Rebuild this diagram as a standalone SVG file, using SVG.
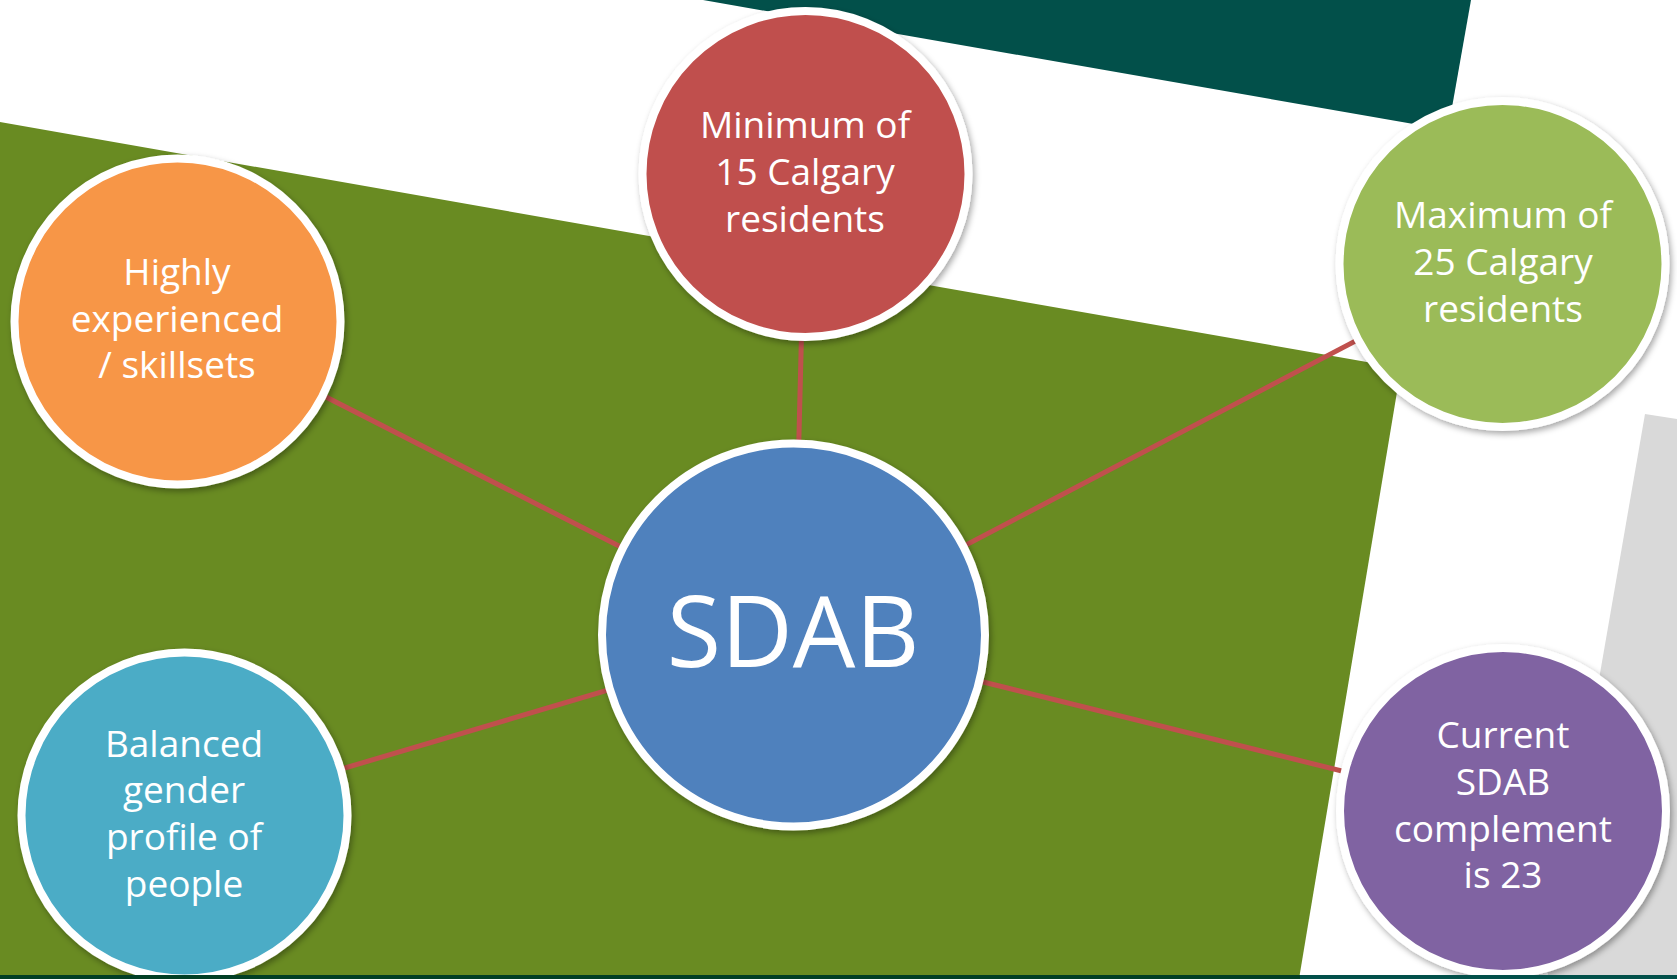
<svg xmlns="http://www.w3.org/2000/svg" width="1677" height="979" viewBox="0 0 1677 979">
  <defs>
    <filter id="sh" x="-10%" y="-10%" width="125%" height="125%">
      <feDropShadow dx="2" dy="3" stdDeviation="3" flood-color="#000" flood-opacity="0.35"/>
    </filter>
  </defs>
  <style>
    .node { stroke: #ffffff; stroke-width: 8; filter: url(#sh); }
    .lbl { font-family: "Open Sans", "Noto Sans", sans-serif; font-size: 37px; fill: #ffffff; text-anchor: middle; }
    .big { font-family: "Open Sans", "Noto Sans", sans-serif; font-size: 99px; fill: #ffffff; text-anchor: middle; }
    .conn { stroke: #C0504D; stroke-width: 5; fill: none; }
  </style>

  <g id="background">
    <rect x="0" y="0" width="1677" height="979" fill="#ffffff"/>
    <polygon points="703,0 1471,0 1448,130" fill="#02504A"/>
    <polygon points="0,122 1401,368 1299,979 0,979" fill="#698B22"/>
    <polygon points="1645,414 1677,419 1677,979 1547,979" fill="#D9D9D9"/>
  </g>

  <g id="connectors">
    <line class="conn" x1="794" y1="635" x2="805.5" y2="174"/>
    <line class="conn" x1="794" y1="635" x2="1502.5" y2="264"/>
    <line class="conn" x1="794" y1="635" x2="1503" y2="811"/>
    <line class="conn" x1="794" y1="635" x2="177.5" y2="321.5"/>
    <line class="conn" x1="794" y1="635" x2="184.5" y2="815.5"/>
  </g>

  <g id="node-min">
    <circle class="node" cx="805.5" cy="174" r="163" fill="#C0504D"/>
    <text class="lbl" x="805" y="138">Minimum of</text>
    <text class="lbl" x="805" y="185">15 Calgary</text>
    <text class="lbl" x="805" y="232">residents</text>
  </g>

  <g id="node-max">
    <circle class="node" cx="1502.5" cy="264" r="163" fill="#9BBB59"/>
    <text class="lbl" x="1503" y="228">Maximum of</text>
    <text class="lbl" x="1503" y="275">25 Calgary</text>
    <text class="lbl" x="1503" y="322">residents</text>
  </g>

  <g id="node-exp">
    <circle class="node" cx="177.5" cy="321.5" r="163" fill="#F79646"/>
    <text class="lbl" x="177" y="285">Highly</text>
    <text class="lbl" x="177" y="332">experienced</text>
    <text class="lbl" x="177" y="378">/ skillsets</text>
  </g>

  <g id="node-gender">
    <circle class="node" cx="184.5" cy="815.5" r="163" fill="#4BACC6"/>
    <text class="lbl" x="184" y="757">Balanced</text>
    <text class="lbl" x="184" y="803">gender</text>
    <text class="lbl" x="184" y="850">profile of</text>
    <text class="lbl" x="184" y="897">people</text>
  </g>

  <g id="node-current">
    <circle class="node" cx="1503" cy="811" r="163" fill="#8064A2"/>
    <text class="lbl" x="1503" y="748">Current</text>
    <text class="lbl" x="1503" y="795">SDAB</text>
    <text class="lbl" x="1503" y="842">complement</text>
    <text class="lbl" x="1503" y="888">is 23</text>
  </g>

  <g id="node-sdab">
    <circle class="node" cx="793.5" cy="635" r="191.5" fill="#4F81BD"/>
    <text class="big" x="793" y="667">SDAB</text>
  </g>

  <g id="bottom-band">
    <rect x="0" y="975" width="1300" height="4" fill="#013F25"/>
    <rect x="1300" y="975" width="377" height="4" fill="#02504A"/>
  </g>
</svg>
